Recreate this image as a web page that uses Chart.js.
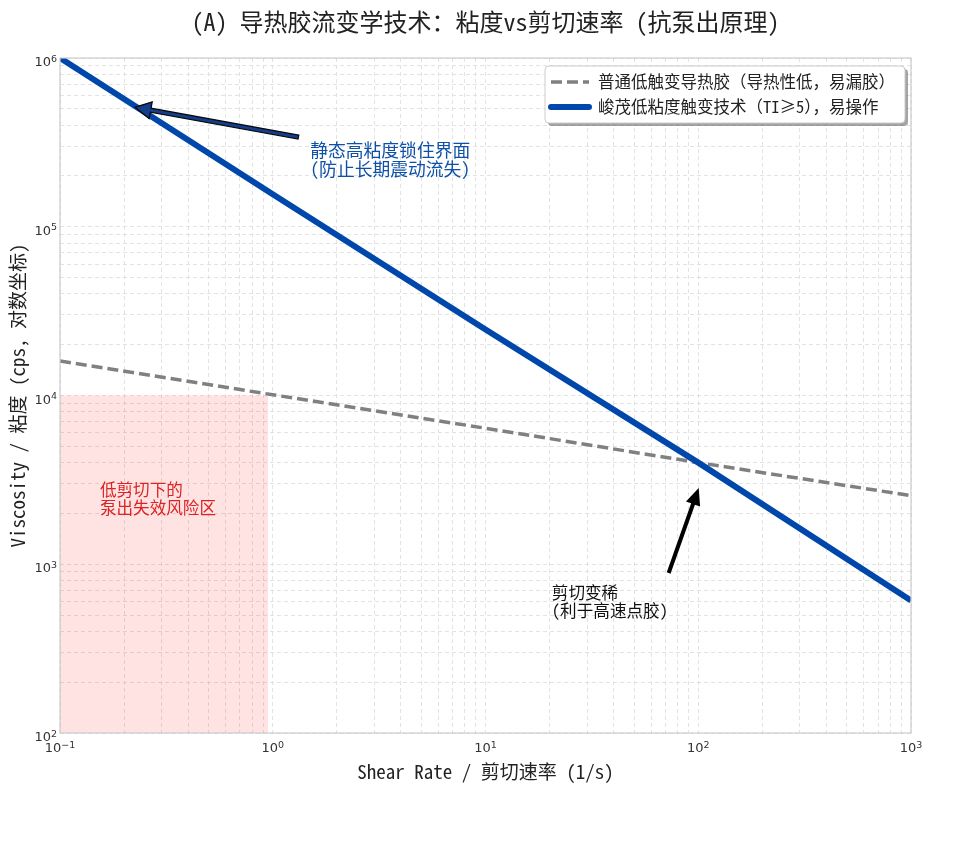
<!DOCTYPE html>
<html>
<head>
<meta charset="utf-8">
<script src="https://cdn.jsdelivr.net/npm/chart.js@4.4.1/dist/chart.umd.min.js"></script>
<style>
body{margin:0;background:#fff;}
#wrap{width:971px;height:862px;position:relative;}
</style>
</head>
<body>
<div id="wrap"><canvas id="rheo_chart"></canvas></div>
<script>
var shearRate = [0.1, 1, 10, 100, 1000];
var viscosityNormal = [16000, 10100, 6400, 4000, 2550];
var viscosityJunmao = [1000000, 156000, 24600, 4000, 610];
var riskRate = [0.1, 0.95];
var riskViscosity = [10000, 10000];

// decade ticks, label = "10" + exponent
var xTickValues = [0.1, 1, 10, 100, 1000];
var xTickPowers = ["−1", "0", "1", "2", "3"];
var yTickValues = [100, 1000, 10000, 100000, 1000000];
var yTickPowers = ["2", "3", "4", "5", "6"];

var titleText = "(A) 导热胶流变学技术：粘度vs剪切速率 (抗泵出原理)";
var xTitle = "Shear Rate / 剪切速率 (1/s)";
var yTitle = "Viscosity / 粘度 (cps, 对数坐标)";
var normalLabel = "普通低触变导热胶（导热性低，易漏胶）";
var junmaoLabel = "峻茂低粘度触变技术（TI≥5），易操作";

// notes: text lines, text anchor (x, y), arrow (tail x, tail y, tip x, tip y)
var noteLock = ["静态高粘度锁住界面", "(防止长期震动流失)"];
var noteLockAt = [1.5, 250000];
var noteLockArrow = [1.32, 340000, 0.225, 510000];
var noteThin = ["剪切变稀", "(利于高速点胶)"];
var noteThinAt = [20.5, 600];
var noteThinArrow = [72.6, 887, 100.5, 2830];
var noteRisk = ["低剪切下的", "泵出失效风险区"];
var noteRiskAt = [0.154, 2450];

var CJK = '"Noto Sans Mono CJK SC", "Noto Sans CJK SC", "DejaVu Sans", sans-serif';

function toPoints(xs, ys) {
  return xs.map(function(x, i){ return {x: x, y: ys[i]}; });
}

function logTicks(decades) {
  var t = [];
  for (var i = 0; i < decades.length; i++) {
    if (i == decades.length - 1) { t.push({value: decades[i]}); break; }
    for (var k = 1; k < 10; k++) t.push({value: decades[i] * k});
  }
  return t;
}

function drawArrow(ctx, x1, y1, x2, y2, shaft, headW, headL, fill, edge, edgeW) {
  var dx = x2 - x1, dy = y2 - y1, len = Math.sqrt(dx*dx + dy*dy);
  var ux = dx/len, uy = dy/len, px = -uy, py = ux;
  var bx = x2 - ux*headL, by = y2 - uy*headL;
  ctx.save();
  ctx.beginPath();
  ctx.moveTo(x1 + px*shaft/2, y1 + py*shaft/2);
  ctx.lineTo(bx + px*shaft/2, by + py*shaft/2);
  ctx.lineTo(bx + px*headW/2, by + py*headW/2);
  ctx.lineTo(x2, y2);
  ctx.lineTo(bx - px*headW/2, by - py*headW/2);
  ctx.lineTo(bx - px*shaft/2, by - py*shaft/2);
  ctx.lineTo(x1 - px*shaft/2, y1 - py*shaft/2);
  ctx.closePath();
  ctx.fillStyle = fill;
  ctx.fill();
  if (edge) {
    ctx.strokeStyle = edge;
    ctx.lineWidth = edgeW;
    ctx.stroke();
  }
  ctx.restore();
}

function drawNote(ctx, lines, x, y, color, size) {
  ctx.save();
  ctx.font = size + "px " + CJK;
  ctx.fillStyle = color;
  ctx.textAlign = "left";
  ctx.textBaseline = "middle";
  var lh = size * 1.08;
  var y0 = y - (lines.length - 1) * lh / 2;
  lines.forEach(function(s, i){ ctx.fillText(s, x, y0 + i*lh); });
  ctx.restore();
}

// "10" with a raised exponent, like matplotlib's log tick labels
function powerLabel(ctx, power, x, baseY, align) {
  ctx.font = "13px DejaVu Sans";
  var wBase = ctx.measureText("10").width;
  ctx.font = "9.5px DejaVu Sans";
  var wExp = ctx.measureText(power).width;
  var left = align == "right" ? x - wBase - wExp : x - (wBase + wExp) / 2;
  ctx.textAlign = "left";
  ctx.textBaseline = "alphabetic";
  ctx.font = "13px DejaVu Sans";
  ctx.fillText("10", left, baseY);
  ctx.font = "9.5px DejaVu Sans";
  ctx.fillText(power, left + wBase, baseY - 4.5);
}

var decorPlugin = {
  id: "decor",
  afterDatasetsDraw: function(chart) {
    var ctx = chart.ctx, a = chart.chartArea;
    var xs = chart.scales.x, ys = chart.scales.y;

    ctx.save();
    ctx.strokeStyle = "#cccccc";
    ctx.lineWidth = 1.2;
    ctx.strokeRect(a.left, a.top, a.right - a.left, a.bottom - a.top);
    ctx.restore();

    drawArrow(ctx,
      xs.getPixelForValue(noteLockArrow[0]), ys.getPixelForValue(noteLockArrow[1]),
      xs.getPixelForValue(noteLockArrow[2]), ys.getPixelForValue(noteLockArrow[3]),
      4, 17, 16, "#143d8c", "#0a0a0a", 1.3);
    drawArrow(ctx,
      xs.getPixelForValue(noteThinArrow[0]), ys.getPixelForValue(noteThinArrow[1]),
      xs.getPixelForValue(noteThinArrow[2]), ys.getPixelForValue(noteThinArrow[3]),
      4, 15, 17, "#000000");

    drawNote(ctx, noteLock, xs.getPixelForValue(noteLockAt[0]), ys.getPixelForValue(noteLockAt[1]), "#0d50a8", 17.8);
    drawNote(ctx, noteThin, xs.getPixelForValue(noteThinAt[0]), ys.getPixelForValue(noteThinAt[1]), "#111111", 16.6);
    drawNote(ctx, noteRisk, xs.getPixelForValue(noteRiskAt[0]), ys.getPixelForValue(noteRiskAt[1]), "#dd2222", 16.6);

    // tick labels
    ctx.save();
    ctx.fillStyle = "#333333";
    xTickValues.forEach(function(v, i){
      powerLabel(ctx, xTickPowers[i], xs.getPixelForValue(v), a.bottom + 19, "center");
    });
    yTickValues.forEach(function(v, i){
      powerLabel(ctx, yTickPowers[i], a.left - 3, ys.getPixelForValue(v) + 8, "right");
    });
    ctx.restore();
  },
  afterDraw: function(chart) {
    var ctx = chart.ctx, a = chart.chartArea;
    var midX = (a.left + a.right) / 2, midY = (a.top + a.bottom) / 2;

    // title and axis titles
    ctx.save();
    ctx.fillStyle = "#222222";
    ctx.textAlign = "center";
    ctx.textBaseline = "middle";
    ctx.font = "24px " + CJK;
    ctx.fillText(titleText, midX, 22);
    ctx.font = "19px " + CJK;
    ctx.fillText(xTitle, midX, 772);
    ctx.translate(18, midY);
    ctx.rotate(-Math.PI / 2);
    ctx.fillText(yTitle, 0, 0);
    ctx.restore();

    // legend box
    var w = 360, h = 57;
    var bx = a.right - 6 - w, by = a.top + 8;
    ctx.save();
    ctx.fillStyle = "rgba(90,90,90,0.55)";
    ctx.beginPath();
    ctx.roundRect(bx + 3, by + 3, w, h, 4);
    ctx.fill();
    ctx.fillStyle = "#ffffff";
    ctx.strokeStyle = "#cccccc";
    ctx.lineWidth = 1;
    ctx.beginPath();
    ctx.roundRect(bx, by, w, h, 4);
    ctx.fill();
    ctx.stroke();

    var ds = chart.data.datasets;
    var rows = [ds[1], ds[2]];
    rows.forEach(function(d, i){
      var ry = by + 16 + i*25;
      ctx.save();
      ctx.strokeStyle = d.borderColor;
      ctx.lineWidth = d.borderWidth;
      ctx.setLineDash(d.borderDash || []);
      ctx.lineCap = d.borderDash ? "butt" : "round";
      ctx.beginPath();
      ctx.moveTo(bx + 6, ry);
      ctx.lineTo(bx + 44, ry);
      ctx.stroke();
      ctx.restore();
      ctx.fillStyle = "#222222";
      ctx.font = "16.5px " + CJK;
      ctx.textAlign = "left";
      ctx.textBaseline = "middle";
      ctx.fillText(d.label, bx + 53, ry);
    });
    ctx.restore();
  }
};

var rheoChart = new Chart(document.getElementById("rheo_chart"), {
  type: "line",
  data: {
    datasets: [
      {
        label: "risk",
        data: toPoints(riskRate, riskViscosity),
        fill: "start",
        backgroundColor: "rgba(255,0,0,0.11)",
        borderWidth: 0,
        pointRadius: 0,
        order: 3
      },
      {
        label: normalLabel,
        data: toPoints(shearRate, viscosityNormal),
        borderColor: "#808080",
        borderWidth: 3.5,
        borderDash: [11, 5],
        pointRadius: 0,
        fill: false,
        order: 2
      },
      {
        label: junmaoLabel,
        data: toPoints(shearRate, viscosityJunmao),
        borderColor: "#0047ab",
        borderWidth: 6,
        pointRadius: 0,
        fill: false,
        order: 1
      }
    ]
  },
  options: {
    responsive: true,
    maintainAspectRatio: false,
    animation: false,
    layout: { padding: { top: 58, right: 60, left: 0, bottom: 0 } },
    plugins: {
      legend: { display: false },
      title: { display: false },
      tooltip: { enabled: false }
    },
    scales: {
      x: {
        type: "logarithmic",
        min: 0.1,
        max: 1000,
        afterBuildTicks: function(scale){ scale.ticks = logTicks(xTickValues); },
        afterFit: function(scale){ scale.height = 129; },
        grid: { color: "#dcdcdc", lineWidth: 0.8, drawTicks: false },
        border: { display: false, dash: [4, 3] },
        ticks: { display: false, autoSkip: false }
      },
      y: {
        type: "logarithmic",
        min: 100,
        max: 1000000,
        afterBuildTicks: function(scale){ scale.ticks = logTicks(yTickValues); },
        afterFit: function(scale){ scale.width = 60; },
        grid: { color: "#dcdcdc", lineWidth: 0.8, drawTicks: false },
        border: { display: false, dash: [4, 3] },
        ticks: { display: false, autoSkip: false }
      }
    }
  },
  plugins: [decorPlugin]
});
</script>
</body>
</html>
